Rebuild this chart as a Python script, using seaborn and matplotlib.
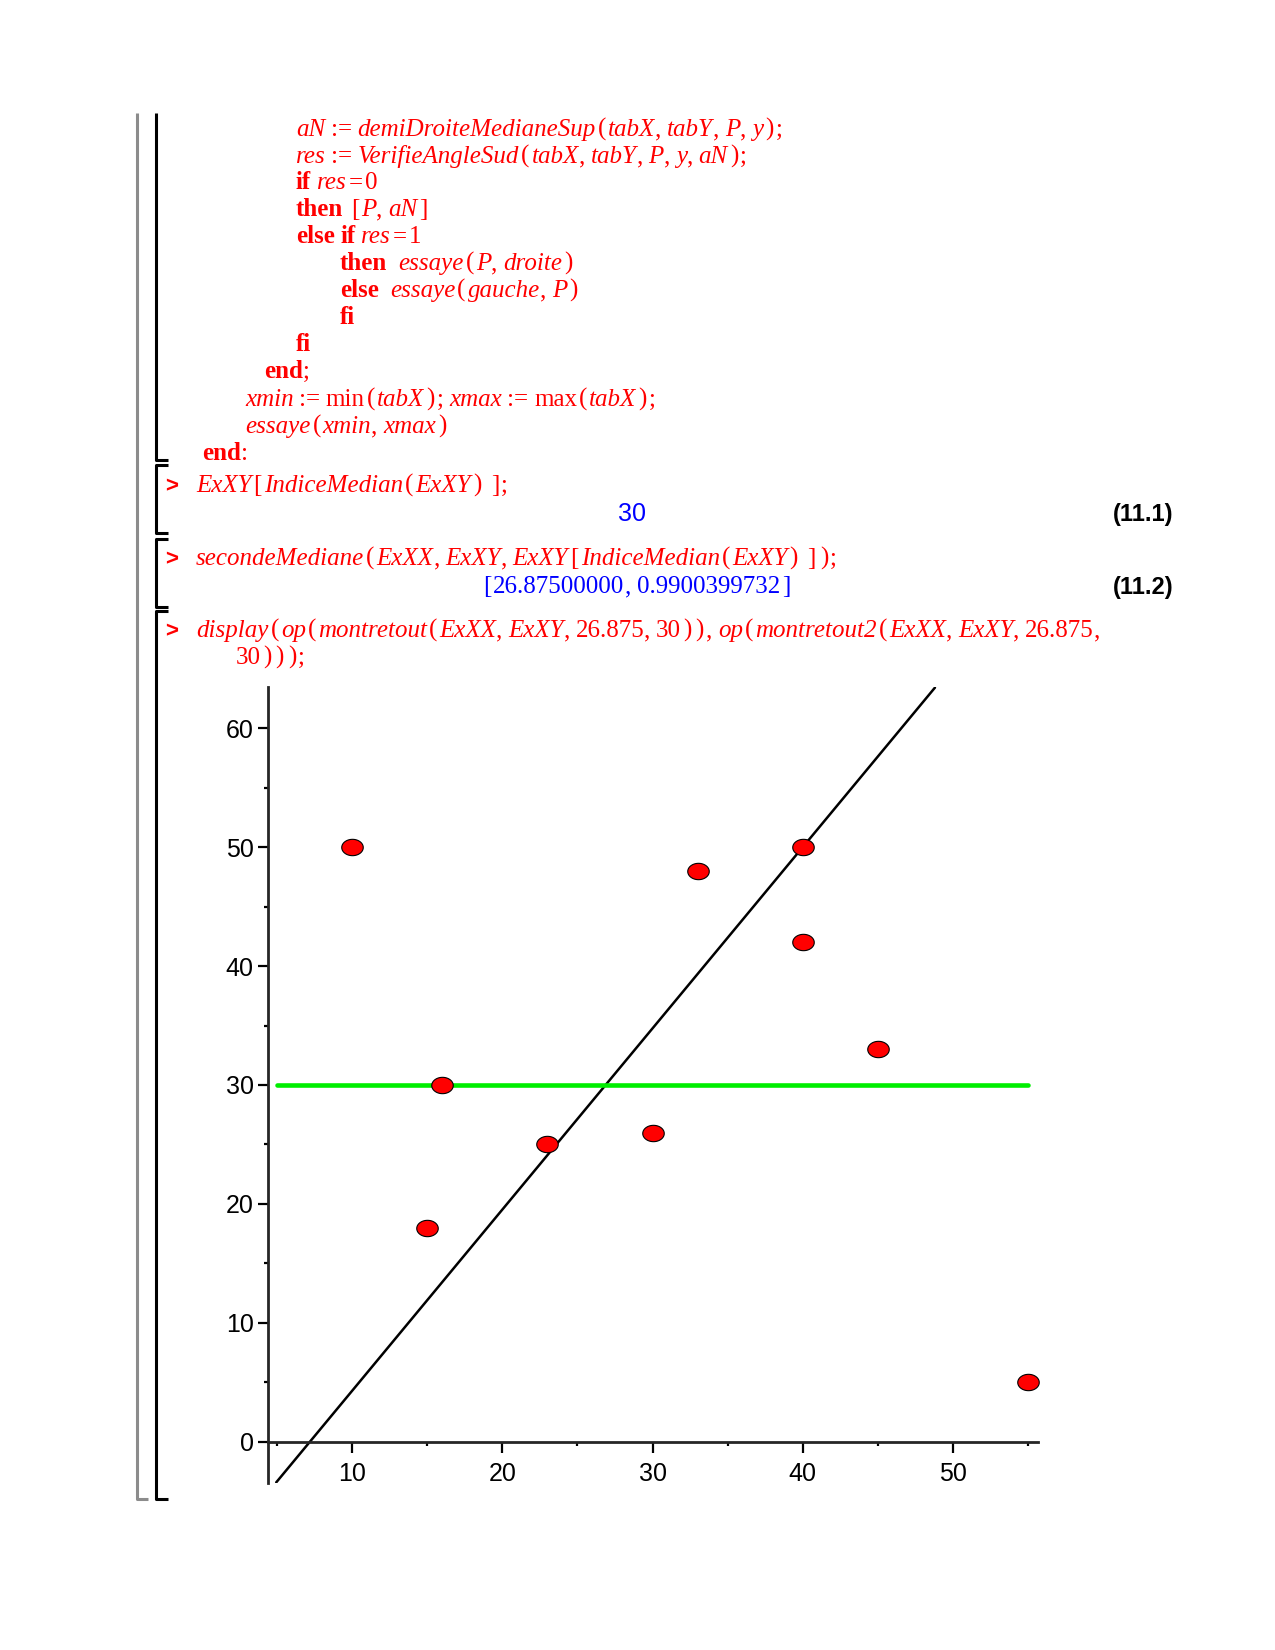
import re
import numpy as np
import matplotlib
matplotlib.use("Agg")
import matplotlib.pyplot as plt
from matplotlib.lines import Line2D
from matplotlib.path import Path
import seaborn as sns

# donnees du graphique
ex_xx = [10, 15, 16, 23, 30, 33, 40, 40, 45, 55]
ex_xy = [50, 18, 30, 25, 26, 48, 50, 42, 33, 5]
mediane_y = 30
x_mediane = 26.875
angle = 0.9900399732
droite_y = [-3.4, 63.4]
horiz_x = [5, 55]
x_major = [10, 20, 30, 40, 50]
x_minor = [5, 15, 25, 35, 45, 55]
y_major = [0, 10, 20, 30, 40, 50, 60]
y_minor = [5, 15, 25, 35, 45, 55]

# lignes de code maple (x px, y px de la ligne de base, texte)
code_lignes = [
    (296, 136, "aN := demiDroiteMedianeSup(tabX, tabY, P, y);"),
    (296, 163, "res := VerifieAngleSud(tabX, tabY, P, y, aN);"),
    (296, 189, "if res=0"),
    (296, 216, "then [P, aN]"),
    (296, 243, "else if res=1"),
    (340, 270, "then  essaye(P, droite)"),
    (340, 297, "else  essaye(gauche, P)"),
    (340, 324, "fi"),
    (296, 351, "fi"),
    (264, 378, "end;"),
    (245, 406, "xmin := min(tabX); xmax := max(tabX);"),
    (245, 433, "essaye(xmin, xmax)"),
    (202, 460, "end:"),
    (196, 492, "ExXY[IndiceMedian(ExXY) ];"),
    (196, 565, "secondeMediane(ExXX, ExXY, ExXY[IndiceMedian(ExXY) ]);"),
    (196, 637, "display(op(montretout(ExXX, ExXY, 26.875, 30)), op(montretout2(ExXX, ExXY, 26.875,"),
    (236, 664, "30)));"),
]
prompts_y = [492, 565, 637]
mots_cles = {"if", "then", "else", "fi", "end"}
fonctions_droites = {"min", "max"}

W, H = 1275, 1650
sns.set_style("white")
plt.rcParams['font.family'] = ['Liberation Sans', 'DejaVu Sans']

fig = plt.figure(figsize=(W / 100, H / 100), dpi=100)
renderer = fig.canvas.get_renderer()


def fx(x):
    return x / W


def fy(y):
    return 1 - y / H


def ecrire_code(x, y, s, taille=18, couleur='#ff0000'):
    em = taille * 100 / 72
    for tok in re.findall(r"[A-Za-z_][A-Za-z0-9_]*|\d+(?:\.\d+)?|\s|:=|.", s):
        if tok == " ":
            x += 0.22 * em
            continue
        style, poids = 'normal', 'normal'
        if tok in mots_cles:
            poids = 'bold'
        elif tok[0].isalpha() and tok not in fonctions_droites:
            style = 'italic'
        pad = 2 if tok in "()[]=" else 0
        x += pad
        t = fig.text(fx(x), fy(y), tok, fontsize=taille, color=couleur,
                     family='Liberation Serif', fontstyle=style,
                     fontweight=poids, va='baseline', ha='left')
        x += t.get_window_extent(renderer).width + pad


for x, y, s in code_lignes:
    ecrire_code(x, y, s)

for y in prompts_y:
    fig.text(fx(165), fy(y), ">", fontsize=16, color='#ff0000',
             fontweight='bold', va='baseline', ha='left')

# sorties
fig.text(fx(632), fy(521), "30", fontsize=18, color='#0000ff',
         va='baseline', ha='center')
ecrire_code(481, 593, "[26.87500000, 0.9900399732]", couleur='#0000ff')
fig.text(fx(1173), fy(521), "(11.1)", fontsize=17, fontweight='bold',
         color='black', va='baseline', ha='right')
fig.text(fx(1173), fy(594), "(11.2)", fontsize=17, fontweight='bold',
         color='black', va='baseline', ha='right')

# crochets de la feuille maple
def trait(xs, ys, couleur='black', lw=2.2):
    fig.add_artist(Line2D([fx(v) for v in xs], [fy(v) for v in ys],
                          color=couleur, lw=lw, solid_capstyle='butt'))


trait([137, 137, 148], [113, 1499, 1499], couleur='#8c8c8c')
trait([156, 156, 168], [113, 460, 460])
for haut, bas in [(465, 533), (539, 607), (611, 1499)]:
    trait([168, 156, 156, 168], [haut, haut, bas, bas])

# graphique
ax = fig.add_axes([fx(268), fy(1483), fx(770), 796 / H])
pente = np.tan(angle)
droite_x = [x_mediane + (v - mediane_y) / pente for v in droite_y]
sns.lineplot(x=droite_x, y=droite_y, color='black', linewidth=1.8,
             sort=False, ax=ax)
sns.lineplot(x=horiz_x, y=[mediane_y] * len(horiz_x), color='#00ee00',
             linewidth=3.3, ax=ax)

t = np.linspace(0, 2 * np.pi, 60)
ellipse = Path(np.column_stack([np.cos(t), 0.76 * np.sin(t)]))
sns.scatterplot(x=ex_xx, y=ex_xy, marker=ellipse, s=240, color='#ff0000',
                edgecolor='black', linewidth=0.8, zorder=5, clip_on=False,
                ax=ax)

ax.set_xlim(4.41, 55.65)
ax.set_ylim(-3.45, 63.45)
ax.spines['top'].set_visible(False)
ax.spines['right'].set_visible(False)
ax.spines['bottom'].set_position(('data', 0))
for sp in ['left', 'bottom']:
    ax.spines[sp].set_linewidth(2.0)
ax.set_xticks(x_major)
ax.set_xticks(x_minor, minor=True)
ax.set_yticks(y_major)
ax.set_yticks(y_minor, minor=True)
ax.tick_params(which='major', direction='out', width=1.6, color='black',
               labelsize=18, labelcolor='black')
ax.tick_params(axis='y', which='major', length=7.2, pad=3)
ax.tick_params(axis='x', which='major', length=7.6, pad=6.5)
ax.tick_params(which='minor', direction='out', width=1.6, length=3.2,
               color='black')
ax.tick_params(axis='x', which='both', bottom=True)
ax.tick_params(axis='y', which='both', left=True)
ax.grid(False)
ax.patch.set_alpha(0)

fig.savefig("out.png", dpi=100)
